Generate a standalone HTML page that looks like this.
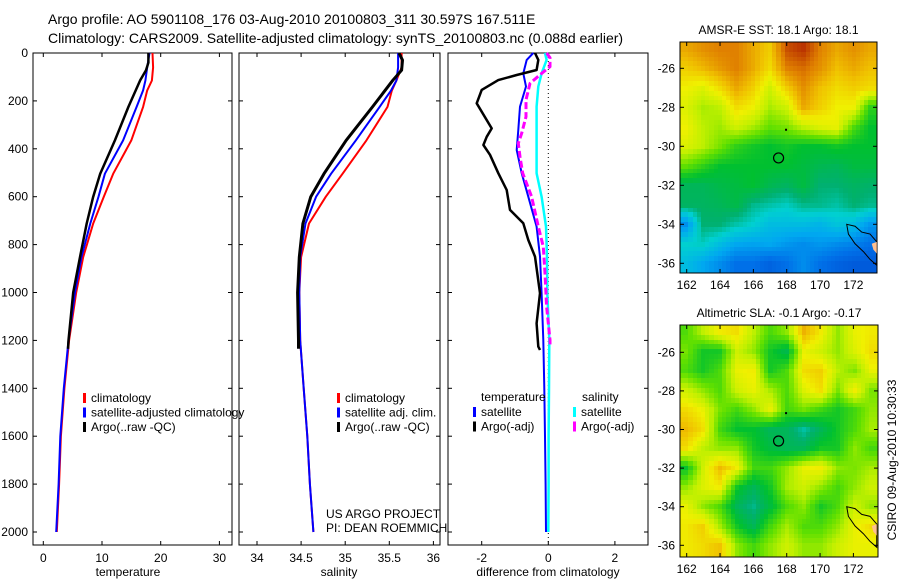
<!DOCTYPE html>
<html><head><meta charset="utf-8">
<style>
html,body{margin:0;padding:0;background:#fff;}
svg{display:block;font-family:"Liberation Sans",sans-serif;}
canvas{position:absolute;image-rendering:pixelated;}
</style></head>
<body>
<div style="position:relative;width:900px;height:580px;">
<canvas id="sst" width="197" height="231" style="left:680px;top:42px;"></canvas>
<canvas id="sla" width="198" height="232" style="left:680px;top:325px;"></canvas>
<svg id="fig" width="900" height="580" style="position:absolute;left:0;top:0;"></svg>
</div>
<script>
// ---------- data ----------
const depthClim = [0,60,115,156,225,365,504,600,712,852,1000,1200,1400,1600,1800,2000];
const tempClim  = [18.6,18.7,18.5,17.7,17.0,15.0,11.9,10.3,8.5,6.8,5.6,4.4,3.6,3.0,2.7,2.3];
const tempSat   = [18.1,17.7,17.4,17.0,15.9,13.6,10.5,9.4,8.0,6.5,5.4,4.3,3.5,2.9,2.6,2.2];
const depthArgoT = [0,40,72,114,225,365,504,600,712,852,1000,1200,1235];
const tempArgo   = [17.9,17.9,17.5,16.5,14.5,12.2,9.7,8.5,7.4,6.25,5.1,4.3,4.2];
const salClim = [35.64,35.64,35.58,35.53,35.48,35.24,34.97,34.78,34.59,34.5,34.48,34.49,34.53,34.57,34.6,34.64];
const salSat  = [35.60,35.60,35.58,35.52,35.39,35.12,34.84,34.67,34.55,34.49,34.48,34.49,34.53,34.57,34.6,34.64];
const depthArgoS = [0,30,72,114,225,365,504,600,712,852,1000,1200,1235];
const salArgo    = [35.61,35.65,35.64,35.54,35.31,35.01,34.76,34.61,34.52,34.48,34.46,34.47,34.47];
const depthDiff = [0,29,85,140,224,321,405,502,600,725,850,1003,1198,1400,1600,1800,2000];
const diffTempSat = [-0.45,-0.65,-0.75,-0.67,-0.85,-0.9,-0.95,-0.8,-0.6,-0.35,-0.25,-0.2,-0.15,-0.12,-0.1,-0.08,-0.07];
const diffSalSat  = [-0.1,-0.05,-0.2,-0.3,-0.35,-0.35,-0.35,-0.35,-0.2,-0.07,-0.04,-0.03,0.03,0.02,0.01,0.01,0.0];
const depthDiffArgoT = [0,29,71,92,113,154,210,315,350,384,425,502,572,655,711,781,850,1003,1129,1226,1240];
const diffTempArgo   = [-0.4,-0.3,-0.35,-0.95,-1.5,-2.0,-2.15,-1.7,-1.85,-1.95,-1.75,-1.5,-1.25,-1.15,-0.75,-0.6,-0.4,-0.25,-0.35,-0.3,-0.25];
const depthDiffArgoS = [0,20,57,85,127,196,266,335,377,433,502,600,725,809,920,1059,1198,1225];
const diffSalArgo    = [-0.05,0.05,0.05,-0.2,-0.55,-0.67,-0.67,-0.8,-0.9,-0.85,-0.77,-0.5,-0.3,-0.15,-0.1,-0.05,0.05,0.05];
const depthTicks = [0,200,400,600,800,1000,1200,1400,1600,1800,2000];
const tempTicks = [0,10,20,30];
const salTicks = ["34","34.5","35","35.5","36"];
const diffTicks = [-2,0,2];
const sstField = [
[.85,.88,.9,.9,.85,.8,.95,.98,.9,.85,.88,.85],
[.8,.83,.87,.9,.85,.78,.9,.92,.88,.82,.85,.82],
[.75,.72,.78,.85,.8,.7,.8,.88,.82,.78,.8,.78],
[.72,.66,.68,.78,.75,.66,.7,.85,.8,.75,.75,.55],
[.75,.68,.65,.7,.66,.6,.62,.68,.72,.74,.58,.5],
[.72,.68,.62,.55,.52,.5,.52,.5,.5,.52,.5,.5],
[.6,.55,.5,.5,.5,.5,.5,.48,.46,.45,.48,.48],
[.45,.45,.47,.48,.5,.46,.44,.48,.42,.42,.44,.43],
[.44,.44,.45,.47,.4,.38,.36,.4,.4,.38,.42,.4],
[.2,.42,.42,.38,.35,.3,.3,.3,.28,.32,.3,.22],
[.35,.36,.3,.25,.24,.25,.22,.2,.22,.2,.18,.15],
[.3,.25,.2,.15,.15,.12,.15,.2,.15,.12,.1,.1]];
const slaField = [
[.58,.68,.76,.78,.68,.58,.64,.84,.76,.64,.74,.76],
[.62,.52,.52,.7,.64,.52,.46,.74,.7,.64,.72,.78],
[.58,.52,.58,.74,.76,.52,.58,.78,.8,.68,.62,.74],
[.7,.64,.58,.7,.74,.66,.58,.72,.78,.62,.76,.62],
[.78,.74,.62,.57,.64,.74,.57,.62,.57,.52,.57,.64],
[.83,.78,.57,.5,.5,.45,.45,.38,.45,.52,.58,.66],
[.78,.68,.64,.64,.52,.48,.45,.45,.52,.52,.64,.57],
[.5,.7,.83,.76,.57,.57,.64,.74,.76,.64,.62,.66],
[.64,.72,.76,.52,.45,.52,.66,.7,.64,.57,.64,.7],
[.74,.64,.58,.45,.4,.48,.58,.64,.52,.58,.7,.64],
[.76,.8,.66,.52,.45,.57,.66,.58,.58,.64,.74,.78],
[.76,.78,.82,.64,.57,.64,.7,.64,.64,.7,.74,.74]];
const mapLatTicks = [-26,-28,-30,-32,-34,-36];
const mapLonTicks = [162,164,166,168,170,172];

// ---------- helpers ----------
const NS="http://www.w3.org/2000/svg";
const svg=document.getElementById('fig');
function mk(tag,attrs,parent){const e=document.createElementNS(NS,tag);for(const k in attrs)e.setAttribute(k,attrs[k]);(parent||svg).appendChild(e);return e;}
function txt(x,y,s,size,anchor,parent){const t=mk('text',{x:x,y:y,'font-size':size,'text-anchor':anchor||'start',fill:'#000'},parent);t.textContent=s;return t;}
const yD=d=>53+d*0.2395;
const xT=v=>43.3+v*5.87;
const xS=v=>257+(v-34)*88.2;
const xDf=v=>548.3+v*33.3;

function frame(x0,x1,y0,y1,name){
  const r=mk('rect',{x:x0,y:y0,width:x1-x0,height:y1-y0,fill:'none',stroke:'#000','stroke-width':1});
  
  
}
function steps(xs,ds,xf,color,w,name,dash){
  let p='';
  for(let i=0;i<xs.length;i++){
    p+=(i===0?'M':' L')+xf(xs[i]).toFixed(1)+','+yD(ds[i]).toFixed(1);
  }
  const a={d:p,fill:'none',stroke:color,'stroke-width':w,'stroke-linejoin':'round'};
  if(dash)a['stroke-dasharray']=dash;
  const e=mk('path',a);
  
  
}
function depthTicksOn(x0,x1){
  depthTicks.forEach(d=>{const y=yD(d);mk('line',{x1:x0,y1:y,x2:x0+4,y2:y,stroke:'#000'});mk('line',{x1:x1,y1:y,x2:x1-4,y2:y,stroke:'#000'});});
}
function xTicksOn(vals,xf,labels){
  vals.forEach((v,i)=>{const x=xf(v);mk('line',{x1:x,y1:53,x2:x,y2:57,stroke:'#000'});mk('line',{x1:x,y1:545,x2:x,y2:541,stroke:'#000'});
    const t=txt(x,562,labels?labels[i]:String(v),12,'middle');
    
    });
}
function legend(x,y,items,parent){
  items.forEach((it,i)=>{
    const yy=y+i*14.5;
    mk('rect',{x:x,y:yy-9,width:3,height:10,fill:it[1]});
    const t=txt(x+8,yy,it[0],12,'start');
    
    
  });
}

let t1=txt(48,24,'Argo profile: AO 5901108_176 03-Aug-2010 20100803_311 30.597S 167.511E',14);


let t2=txt(48,43,'Climatology: CARS2009. Satellite-adjusted climatology: synTS_20100803.nc (0.088d earlier)',14);



frame(33,232,53,545,'temperature-panel');
depthTicksOn(33,232);
depthTicks.forEach(d=>{const t=txt(28,yD(d)+4,String(d),12,'end');});
xTicksOn(tempTicks,xT);
steps(tempClim,depthClim,xT,'#ff0000',2,'temperature-climatology-line');
steps(tempSat,depthClim,xT,'#0000ff',2,'temperature-satellite-line');
steps(tempArgo,depthArgoT,xT,'#000000',2.5,'temperature-argo-line');
legend(83,402,[['climatology','#ff0000'],['satellite-adjusted climatology','#0000ff'],['Argo(..raw -QC)','#000']]);
let xl1=txt(128,576,'temperature',12,'middle');

frame(239,440,53,545,'salinity-panel');
depthTicksOn(239,440);
xTicksOn(salTicks.map(Number),xS,salTicks);
steps(salClim,depthClim,xS,'#ff0000',2,'salinity-climatology-line');
steps(salSat,depthClim,xS,'#0000ff',2,'salinity-satellite-line');
steps(salArgo,depthArgoS,xS,'#000000',3,'salinity-argo-line');
legend(337,402,[['climatology','#ff0000'],['satellite adj. clim.','#0000ff'],['Argo(..raw -QC)','#000']]);
let a1=txt(326,518,'US ARGO PROJECT',12);
let a2=txt(326,532,'PI: DEAN ROEMMICH',12);
let xl2=txt(339,576,'salinity',12,'middle');

frame(448,648,53,545,'difference-panel');
depthTicksOn(448,648);
xTicksOn(diffTicks,xDf);
mk('line',{x1:xDf(0),y1:53,x2:xDf(0),y2:545,stroke:'#000','stroke-dasharray':'1,3'});
steps(diffSalSat,depthDiff,xDf,'#00ffff',2.5,'salinity-satellite-diff-line');
steps(diffTempSat,depthDiff,xDf,'#0000ff',2,'temperature-satellite-diff-line');
steps(diffTempArgo,depthDiffArgoT,xDf,'#000000',2.5,'temperature-argo-diff-line');
steps(diffSalArgo,depthDiffArgoS,xDf,'#ff00ff',3,'salinity-argo-diff-line','7,3');
let lt=txt(481,401,'temperature',12);
let ls=txt(582,401,'salinity',12);
legend(473,416,[['satellite','#0000ff'],['Argo(-adj)','#000']]);
legend(573,416,[['satellite','#00ffff'],['Argo(-adj)','#ff00ff']]);
let xl3=txt(548,576,'difference from climatology',12,'middle');

const cstops=[[0,[0,48,192]],[.15,[0,112,232]],[.25,[0,168,240]],[.35,[0,208,208]],[.42,[0,176,112]],[.5,[0,192,48]],[.6,[96,224,0]],[.68,[192,240,0]],[.75,[240,240,0]],[.82,[240,192,0]],[.9,[224,128,0]],[1,[176,32,0]]];
function cmap(v){v=Math.max(0,Math.min(1,v));for(let i=1;i<cstops.length;i++){if(v<=cstops[i][0]){const a=cstops[i-1],b=cstops[i],f=(v-a[0])/(b[0]-a[0]);return 'rgb('+a[1].map((c,k)=>Math.round(c+(b[1][k]-c)*f)).join(',')+')';}}return 'rgb(176,32,0)';}
function field(F,lon,lat){
  const c=Math.max(0,Math.min(10.999,lon-162)), r=Math.max(0,Math.min(10.999,-25-lat));
  const i=Math.floor(r),j=Math.floor(c),fr=r-i,fc=c-j;
  return F[i][j]*(1-fr)*(1-fc)+F[i][j+1]*(1-fr)*fc+F[i+1][j]*fr*(1-fc)+F[i+1][j+1]*fr*fc;
}
function drawMap(id,F,lon0,lon1,lat0,lat1){
  const cv=document.getElementById(id),ctx=cv.getContext('2d');
  ctx.imageSmoothingEnabled=false;
  const W=cv.width,H=cv.height,dl=0.25;
  for(let lo=lon0;lo<lon1;lo+=dl){for(let la=lat0;la>lat1;la-=dl){
    const x=Math.round((lo-lon0)/(lon1-lon0)*W),y=Math.round((lat0-la)/(lat0-lat1)*H);
    const x2=Math.round((lo+dl-lon0)/(lon1-lon0)*W),y2=Math.round((lat0-la+dl)/(lat0-lat1)*H);
    ctx.fillStyle=cmap(field(F,lo+dl/2,la-dl/2));
    ctx.fillRect(x,y,x2-x,y2-y);
  }}
}
drawMap('sst',sstField,161.64,173.4,-24.64,-36.5);
drawMap('sla',slaField,161.64,173.4,-24.64,-36.6);

function mapAxes(x0,x1,y0,y1,latY,lonX,title,name){
  frame(x0,x1,y0,y1,name);
  mapLatTicks.forEach(l=>{const y=latY(l);mk('line',{x1:x0,y1:y,x2:x0+4,y2:y,stroke:'#000'});mk('line',{x1:x1,y1:y,x2:x1-4,y2:y,stroke:'#000'});
    const t=txt(x0-5,y+4,String(l),12,'end');});
  mapLonTicks.forEach(l=>{const x=lonX(l);mk('line',{x1:x,y1:y1,x2:x,y2:y1-4,stroke:'#000'});mk('line',{x1:x,y1:y0,x2:x,y2:y0+4,stroke:'#000'});
    const t=txt(x,y1+16,String(l),12,'middle');});
  const tt=txt((x0+x1)/2,y0-8,title,12,'middle');
  const c=mk('circle',{cx:lonX(167.511),cy:latY(-30.597),r:5,fill:'none',stroke:'#000','stroke-width':1.2});
  
  
  mk('rect',{x:lonX(167.9),y:latY(-29.1),width:2,height:2,fill:'#000'});
  const pts=[[171.6,-34.0],[172.1,-34.1],[172.5,-34.4],[173.0,-34.5],[173.4,-34.9],[173.4,-36.1],[173.0,-35.8],[172.6,-35.4],[172.1,-35.0],[171.7,-34.5]];
  const p=mk('path',{d:'M'+pts.map(q=>lonX(q[0])+','+latY(q[1])).join(' L')+' Z',fill:'none',stroke:'#000','stroke-width':1});
  
  
  mk('path',{d:'M'+lonX(173.1)+','+latY(-35.0)+' L'+lonX(173.4)+','+latY(-34.9)+' L'+lonX(173.4)+','+latY(-35.5)+' L'+lonX(173.2)+','+latY(-35.3)+' Z',fill:'#ffc090',stroke:'none'});
}
mapAxes(680,877,42,273,l=>68.3+(-26-l)*19.5,l=>686.7+(l-162)*16.67,'AMSR-E SST: 18.1 Argo: 18.1','sst-map-frame');
mapAxes(680,878,325,557,l=>352.3+(-26-l)*19.3,l=>686.7+(l-162)*16.67,'Altimetric SLA: -0.1 Argo: -0.17','sla-map-frame');
const stamp=txt(0,0,'CSIRO 09-Aug-2010 10:30:33',12,'middle');
stamp.setAttribute('transform','translate(896,460) rotate(-90)');


</script>
</body></html>
